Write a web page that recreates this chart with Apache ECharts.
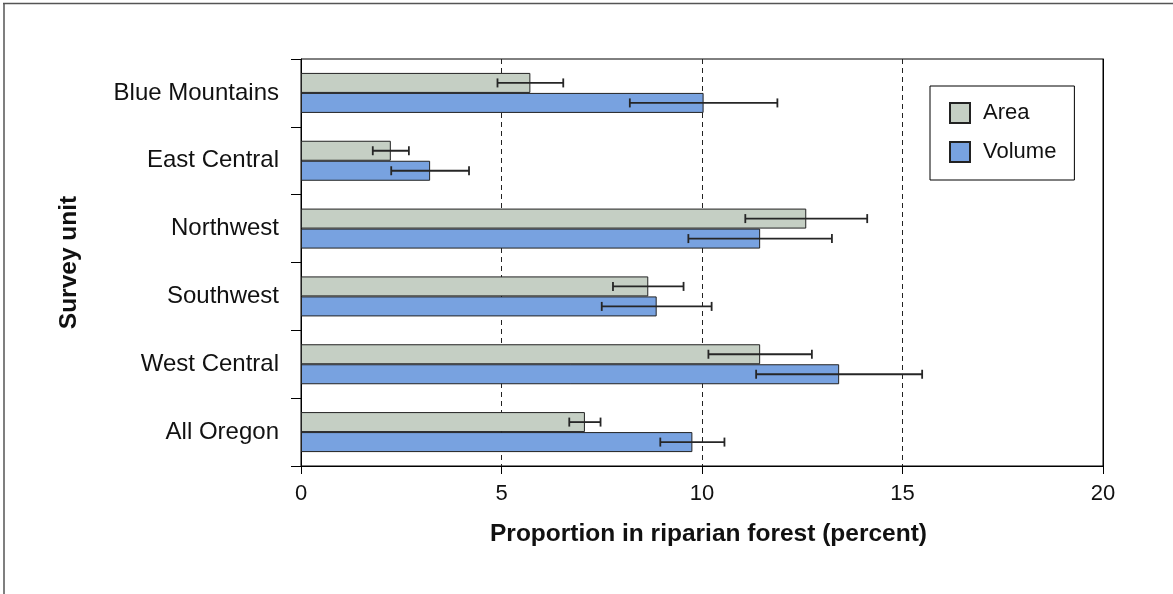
<!DOCTYPE html>
<html>
<head>
<meta charset="utf-8">
<script src="https://cdn.jsdelivr.net/npm/echarts@6/dist/echarts.min.js"></script>
<style>
  html, body { margin: 0; padding: 0; background: #fff; }
  #chart { width: 1173px; height: 594px; }
</style>
</head>
<body>
<div id="chart"></div>
<script>
// Survey units, top to bottom
const categories = ['Blue Mountains', 'East Central', 'Northwest', 'Southwest', 'West Central', 'All Oregon'];

// Proportion in riparian forest (percent) and standard errors
const areaValues   = [5.72, 2.24, 12.60, 8.66, 11.45, 7.08];
const areaErrors   = [0.82, 0.45, 1.52, 0.88, 1.29, 0.39];
const volumeValues = [10.04, 3.22, 11.45, 8.87, 13.42, 9.76];
const volumeErrors = [1.84, 0.97, 1.79, 1.37, 2.07, 0.80];

// x axis ticks
const xTicks = [0, 5, 10, 15, 20];

const FONT = '"Liberation Sans", Arial, Helvetica, sans-serif';
const BAR_W = 20;

const chart = echarts.init(document.getElementById('chart'), null, { renderer: 'canvas' });

// Horizontal error bar with end caps, placed on the bar of the given series slot
function errorBarRenderer(values, errors, slot) {
  return function (params, api) {
    const i = api.value(0);
    const v = values[i];
    const e = errors[i];
    const center = api.coord([v, i]);
    const lo = api.coord([v - e, i]);
    const hi = api.coord([v + e, i]);
    const y = center[1] + (slot === 0 ? -BAR_W / 2 : BAR_W / 2);
    const cap = 4.5;
    const style = { stroke: '#262626', lineWidth: 1.8, fill: null };
    return {
      type: 'group',
      children: [
        { type: 'line', shape: { x1: lo[0], y1: y, x2: hi[0], y2: y }, style: style },
        { type: 'line', shape: { x1: lo[0], y1: y - cap, x2: lo[0], y2: y + cap }, style: style },
        { type: 'line', shape: { x1: hi[0], y1: y - cap, x2: hi[0], y2: y + cap }, style: style }
      ]
    };
  };
}

const option = {
  backgroundColor: '#ffffff',
  animation: false,
  textStyle: { fontFamily: FONT },
  graphic: [
    { type: 'line', shape: { x1: 3, y1: 3.5, x2: 1173, y2: 3.5 }, style: { stroke: '#555', lineWidth: 1.5 } },
    { type: 'line', shape: { x1: 4, y1: 3, x2: 4, y2: 594 }, style: { stroke: '#555', lineWidth: 1.5 } }
  ],
  grid: {
    left: 301, right: 70, top: 59, bottom: 128,
    show: true, borderColor: '#000', borderWidth: 1, backgroundColor: 'transparent'
  },
  legend: {
    data: ['Area', 'Volume'],
    orient: 'vertical',
    left: 930, top: 86,
    padding: [16, 18, 17, 19],
    itemGap: 17,
    itemWidth: 20, itemHeight: 20,
    icon: 'rect',
    borderColor: '#000', borderWidth: 1,
    backgroundColor: '#fff',
    textStyle: { fontFamily: FONT, fontSize: 22, color: '#111', padding: [0, 0, 0, 8], lineHeight: 20 }
  },
  xAxis: {
    type: 'value',
    min: xTicks[0], max: xTicks[xTicks.length - 1], interval: 5,
    name: 'Proportion in riparian forest (percent)',
    nameLocation: 'middle',
    nameGap: 56,
    nameTextStyle: { fontFamily: FONT, fontSize: 24.5, fontWeight: 'bold', color: '#111', padding: [0, 0, 0, 13] },
    axisLine: { show: true, lineStyle: { color: '#000', width: 1 } },
    axisTick: { show: true, length: 8, lineStyle: { color: '#000' } },
    axisLabel: { fontFamily: FONT, fontSize: 22, color: '#111', margin: 17 },
    splitLine: { show: true, lineStyle: { color: '#222', type: [5, 4], width: 1 } }
  },
  yAxis: [
    {
      type: 'category',
      data: categories,
      inverse: true,
      name: 'Survey unit',
      nameLocation: 'middle',
      nameGap: 219,
      nameRotate: 90,
      nameTextStyle: { fontFamily: FONT, fontSize: 24.5, fontWeight: 'bold', color: '#111' },
      axisLine: { show: true, lineStyle: { color: '#000', width: 1 } },
      axisTick: { show: true, length: 10, lineStyle: { color: '#000' } },
      axisLabel: { fontFamily: FONT, fontSize: 24, color: '#111', margin: 22 },
      splitLine: { show: false }
    },
    {
      // solid right-hand frame of the plot
      type: 'category',
      data: categories,
      inverse: true,
      position: 'right',
      axisLine: { show: true, lineStyle: { color: '#000', width: 1 } },
      axisTick: { show: false },
      axisLabel: { show: false },
      splitLine: { show: false },
      z: 10
    }
  ],
  series: [
    {
      name: 'Area', type: 'bar',
      data: areaValues,
      barWidth: BAR_W, barGap: '0%',
      itemStyle: { color: '#c5cfc4', borderColor: '#222', borderWidth: 1 }
    },
    {
      name: 'Volume', type: 'bar',
      data: volumeValues,
      barWidth: BAR_W, barGap: '0%',
      itemStyle: { color: '#78a2e0', borderColor: '#222', borderWidth: 1 }
    },
    {
      type: 'custom', name: 'Area error', z: 5,
      renderItem: errorBarRenderer(areaValues, areaErrors, 0),
      data: categories.map((c, i) => [i]),
      encode: { y: 0 }, silent: true
    },
    {
      type: 'custom', name: 'Volume error', z: 5,
      renderItem: errorBarRenderer(volumeValues, volumeErrors, 1),
      data: categories.map((c, i) => [i]),
      encode: { y: 0 }, silent: true
    }
  ]
};

chart.setOption(option);
</script>
</body>
</html>
